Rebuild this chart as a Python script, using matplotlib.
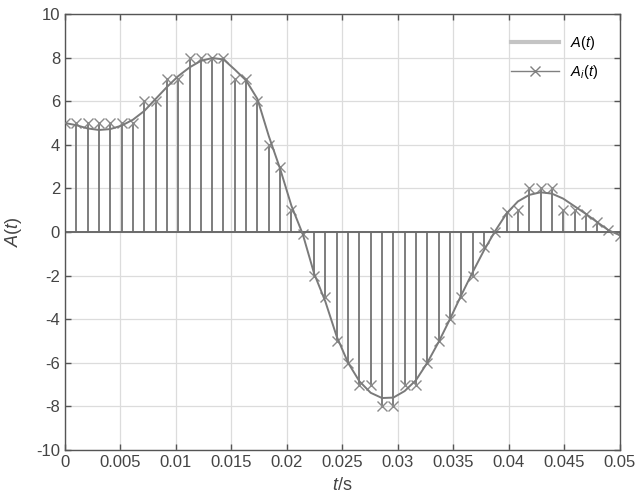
import numpy as np
import matplotlib
matplotlib.use('Agg')
import matplotlib.pyplot as plt
from matplotlib.lines import Line2D
from matplotlib.legend_handler import HandlerLine2D
from matplotlib.ticker import FuncFormatter

plt.rcParams['font.family'] = ['Liberation Sans', 'DejaVu Sans']
plt.rcParams['mathtext.fontset'] = 'custom'
plt.rcParams['mathtext.rm'] = 'Liberation Sans'
plt.rcParams['mathtext.it'] = 'Liberation Sans:italic'
plt.rcParams['axes.unicode_minus'] = False

# 50 samples over 0..0.05 s
t = np.linspace(0, 0.05, 50)

# continuous signal A(t), read at the sample times
A = [5.0, 4.9, 4.75, 4.68, 4.72, 4.88, 5.15, 5.55, 6.1, 6.65,
     7.15, 7.55, 7.85, 7.98, 7.92, 7.45, 6.95, 6.1, 4.4, 2.9,
     1.2, -0.1, -1.9, -3.2, -4.8, -6.0, -6.85, -7.38, -7.62, -7.6,
     -7.3, -6.8, -6.0, -5.05, -4.0, -2.9, -1.85, -0.85, 0.05, 0.85,
     1.4, 1.7, 1.82, 1.76, 1.53, 1.18, 0.83, 0.45, 0.08, -0.15]

# quantized samples A_i(t)
Ai = [5, 5, 5, 5, 5, 5, 5, 6, 6, 7,
      7, 8, 8, 8, 8, 7, 7, 6, 4, 3,
      1, -0.1, -2, -3, -5, -6, -7, -7, -8, -8,
      -7, -7, -6, -5, -4, -3, -2, -0.7, 0, 0.9,
      1, 2, 2, 2, 1, 1, 0.83, 0.45, 0.08, -0.2]


class EndMarker(HandlerLine2D):
    def get_xdata(self, legend, xdescent, ydescent, width, height, fontsize):
        xd, _ = super().get_xdata(legend, xdescent, ydescent, width, height, fontsize)
        return xd, [-xdescent + width]


fig = plt.figure(figsize=(6.37, 5.01), dpi=100)
ax = fig.add_axes([0.102, 0.102, 0.871, 0.870])

ax.grid(True, color='#dcdcdc', lw=0.9)
ax.set_axisbelow(True)

ax.plot(t, A, color='#7a7a7a', lw=1.4, zorder=3)
ml, sl, bl = ax.stem(t, Ai, basefmt=' ')
plt.setp(sl, color='#737373', lw=1.3)
plt.setp(ml, marker='x', color='#8a8a8a', markersize=7, markeredgewidth=1.0)
ax.plot([0, 0.05], [0, 0], color='#6a6a6a', lw=1.4, zorder=2)

ax.set_xlim(0, 0.05)
ax.set_ylim(-10, 10)
ax.set_xticks(np.arange(0, 0.0501, 0.005))
ax.set_yticks(np.arange(-10, 11, 2))
ax.xaxis.set_major_formatter(FuncFormatter(lambda v, p: '%g' % round(v, 4)))
ax.tick_params(direction='in', length=4, width=1, colors='#555555',
               labelcolor='#444444', labelsize=12, top=True, right=True)
for s in ax.spines.values():
    s.set_color('#555555')
    s.set_linewidth(1.0)

ax.set_xlabel(r'$t$/s', fontsize=13, color='#444444', labelpad=5)
ax.set_ylabel(r'$A(t)$', fontsize=13, color='#444444', labelpad=9)

h1 = Line2D([], [], color='#c4c4c4', lw=3)
h2 = Line2D([], [], color='#808080', lw=1, marker='x', markersize=7,
            markeredgewidth=1)
ax.legend([h1, h2], [r'$A(t)$', r'$A_i(t)$'], loc='upper right',
          frameon=False, fontsize=10.5, handlelength=3.3, labelspacing=0.8,
          handler_map={h2: EndMarker(numpoints=1)},
          bbox_to_anchor=(0.985, 0.985))

plt.savefig('out.png', dpi=100)
